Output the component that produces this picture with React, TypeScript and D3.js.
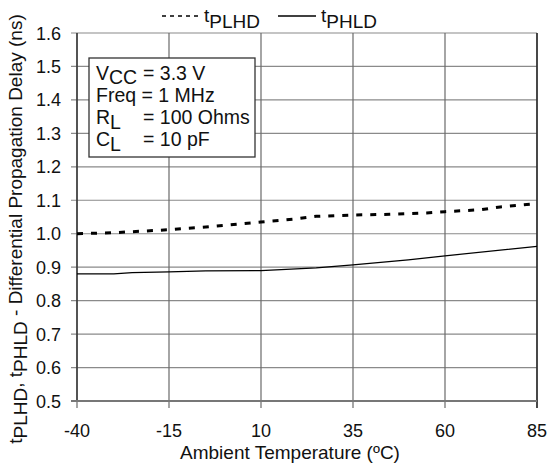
import * as d3 from "d3";

// Differential propagation delay vs ambient temperature.
const xTicks = [-40, -15, 10, 35, 60, 85];
const yTicks = [0.5, 0.6, 0.7, 0.8, 0.9, 1.0, 1.1, 1.2, 1.3, 1.4, 1.5, 1.6];

const tempPLHD = [-40, -30, -25, -15, -5, 5, 10, 20, 25, 35, 45, 55, 60, 70, 75, 85];
const valPLHD = [1.0, 1.003, 1.006, 1.012, 1.02, 1.03, 1.035, 1.045, 1.052, 1.056, 1.058, 1.062, 1.066, 1.072, 1.08, 1.09];

const tempPHLD = [-40, -30, -25, -15, -5, 10, 25, 35, 50, 60, 85];
const valPHLD = [0.88, 0.88, 0.884, 0.886, 0.889, 0.89, 0.898, 0.907, 0.922, 0.934, 0.962];

const W = 551;
const H = 463;
const M = { left: 77, right: 14, top: 33, bottom: 62 };
const FONT = "'Liberation Sans', Arial, sans-serif";

export default function App() {
  const x = d3.scaleLinear().domain([-40, 85]).range([M.left, W - M.right]);
  const y = d3.scaleLinear().domain([0.5, 1.6]).range([H - M.bottom, M.top]);

  const line = d3
    .line<[number, number]>()
    .x((d) => x(d[0]))
    .y((d) => y(d[1]));

  const plhd = tempPLHD.map((t, i) => [t, valPLHD[i]] as [number, number]);
  const phld = tempPHLD.map((t, i) => [t, valPHLD[i]] as [number, number]);

  const x0 = x(-40);
  const x1 = x(85);
  const yb = y(0.5);
  const yt = y(1.6);

  return (
    <svg
      width={W}
      height={H}
      style={{ position: "absolute", left: 0, top: 0, background: "#fff" }}
      fontFamily={FONT}
    >
      {/* grid */}
      {yTicks.map((v) => (
        <g key={"y" + v}>
          <line x1={x0 - 6} x2={x1} y1={y(v)} y2={y(v)} stroke="#8a8a8a" strokeWidth={1.2} />
          <text x={61} y={y(v) + 6.5} fontSize={18} textAnchor="end" fill="#111">
            {v.toFixed(1)}
          </text>
        </g>
      ))}
      {xTicks.map((v) => (
        <g key={"x" + v}>
          <line x1={x(v)} x2={x(v)} y1={yt} y2={yb + 7} stroke="#6a6a6a" strokeWidth={1.2} />
          <text x={x(v)} y={437} fontSize={18} textAnchor="middle" fill="#111">
            {v}
          </text>
        </g>
      ))}
      <line x1={x0} x2={x0} y1={yt} y2={yb} stroke="#333" strokeWidth={1.4} />
      <line x1={x1} x2={x1} y1={yt} y2={yb + 7} stroke="#222" strokeWidth={1.4} />
      <line x1={x0 - 6} x2={x1} y1={yb} y2={yb} stroke="#777" strokeWidth={2} />

      {/* series */}
      <path d={line(plhd) ?? ""} fill="none" stroke="#000" strokeWidth={3} strokeDasharray="6,8" />
      <path d={line(phld) ?? ""} fill="none" stroke="#000" strokeWidth={1.3} />

      {/* condition box */}
      <rect x={89} y={58} width={166} height={99} fill="#fff" stroke="#333" strokeWidth={1.3} />
      <g fontSize={19.5} fill="#111">
        <text x={96} y={80}>
          V<tspan dy={4}>CC</tspan>
        </text>
        <text x={143} y={80}>= 3.3 V</text>
        <text x={96} y={102}>Freq = 1 MHz</text>
        <text x={96} y={124}>
          R<tspan dy={5}>L</tspan>
        </text>
        <text x={143} y={124}>= 100 Ohms</text>
        <text x={96} y={146}>
          C<tspan dy={5}>L</tspan>
        </text>
        <text x={143} y={146}>= 10 pF</text>
      </g>

      {/* legend */}
      <line x1={162} x2={200} y1={16} y2={16} stroke="#000" strokeWidth={1.5} strokeDasharray="4,4" />
      <text x={204} y={22} fontSize={19} fill="#111">
        t<tspan dy={6}>PLHD</tspan>
      </text>
      <line x1={278} x2={316} y1={16} y2={16} stroke="#000" strokeWidth={1.3} />
      <text x={321} y={22} fontSize={19} fill="#111">
        t<tspan dy={6}>PHLD</tspan>
      </text>

      {/* axis titles */}
      <text x={290} y={459} fontSize={19} textAnchor="middle" fill="#111">
        Ambient Temperature (ºC)
      </text>
      <text
        transform={`translate(22, 229) rotate(-90)`}
        fontSize={19}
        textAnchor="middle"
        fill="#111"
      >
        t<tspan dy={5}>PLHD</tspan>
        <tspan dy={-5}>, t</tspan>
        <tspan dy={5}>PHLD</tspan>
        <tspan dy={-5}> - Differential Propagation Delay (ns)</tspan>
      </text>
    </svg>
  );
}
